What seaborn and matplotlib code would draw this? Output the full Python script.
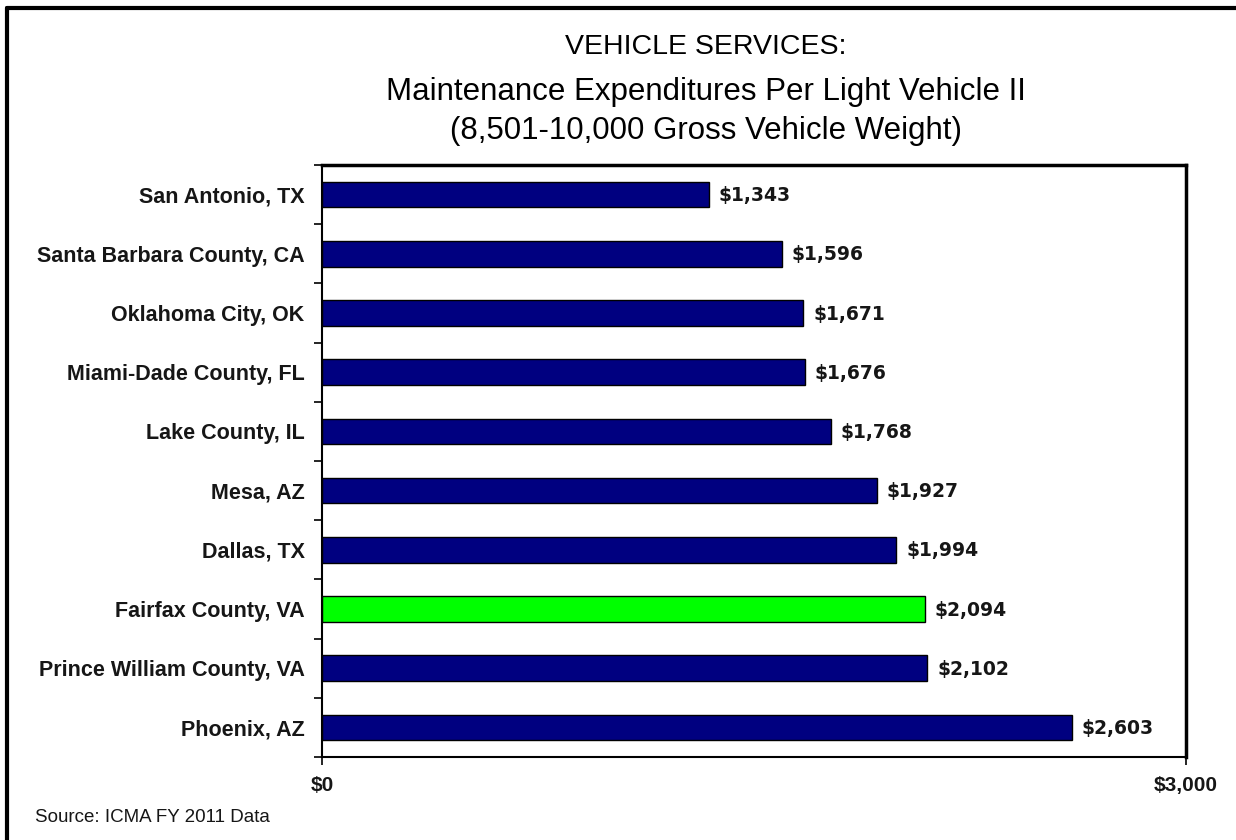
import matplotlib
matplotlib.use("Agg")
import matplotlib.pyplot as plt
from matplotlib.lines import Line2D
import seaborn as sns
import pandas as pd

# Data
jurisdictions = [
    "San Antonio, TX",
    "Santa Barbara County, CA",
    "Oklahoma City, OK",
    "Miami-Dade County, FL",
    "Lake County, IL",
    "Mesa, AZ",
    "Dallas, TX",
    "Fairfax County, VA",
    "Prince William County, VA",
    "Phoenix, AZ",
]
cost_per_vehicle = [1343, 1596, 1671, 1676, 1768, 1927, 1994, 2094, 2102, 2603]
highlight = "Fairfax County, VA"
x_ticks = [0, 3000]
x_tick_labels = ["$0", "$3,000"]

title_lines = [
    "VEHICLE SERVICES:",
    "Maintenance Expenditures Per Light Vehicle II",
    "(8,501-10,000 Gross Vehicle Weight)",
]
source_note = "Source: ICMA FY 2011 Data"

NAVY = "#000080"
GREEN = "#00FF00"
INK = "#161616"

sns.set_theme(style="white")
plt.rcParams["font.family"] = ["Liberation Sans", "DejaVu Sans"]

df = pd.DataFrame({"jurisdiction": jurisdictions, "cost": cost_per_vehicle})
df["group"] = ["hl" if j == highlight else "base" for j in jurisdictions]

fig = plt.figure(figsize=(12.36, 8.4), dpi=100)
ax = fig.add_axes([322 / 1236, 1 - 757 / 840, (1186 - 322) / 1236, (757 - 165) / 840])

sns.barplot(
    data=df, x="cost", y="jurisdiction", hue="group",
    palette={"base": NAVY, "hl": GREEN}, order=jurisdictions,
    orient="h", width=0.43, dodge=False, legend=False,
    edgecolor="black", linewidth=1.0, saturation=1, ax=ax,
)

ax.set_xlim(0, 3000)
ax.set_ylim(len(jurisdictions) - 0.5, -0.5)
ax.set_xlabel("")
ax.set_ylabel("")

# value labels
for i, v in enumerate(cost_per_vehicle):
    ax.text(v + 34, i + 0.02, f"${v:,}", va="center", ha="left",
            fontsize=13.5, fontweight="bold", family="DejaVu Sans", color=INK)

# x axis ticks
ax.set_xticks(x_ticks)
ax.set_xticklabels(x_tick_labels, fontsize=15, fontweight="bold", color=INK)
ax.tick_params(axis="x", direction="out", length=6, width=1.2, pad=8,
               bottom=True, color="black")

# y axis: tick marks on band boundaries, labels at band centres
n = len(jurisdictions)
ax.set_yticks([k - 0.5 for k in range(n + 1)])
ax.set_yticklabels([])
ax.set_yticks(list(range(n)), minor=True)
ax.set_yticklabels(jurisdictions, minor=True, fontsize=15.5, fontweight="bold",
                   color=INK)
ax.tick_params(axis="y", which="major", direction="out", length=6, width=1.2,
               left=True, color="black")
ax.tick_params(axis="y", which="minor", length=0, pad=12.5)

for s in ax.spines.values():
    s.set_visible(True)
    s.set_color("black")
ax.spines["left"].set_linewidth(1.5)
ax.spines["bottom"].set_linewidth(1.5)
ax.spines["top"].set_linewidth(2.5)
ax.spines["right"].set_linewidth(2.5)

# title block
title_x = 706 / 1236
fig.text(title_x, 1 - 47 / 840, title_lines[0], ha="center", va="center",
         fontsize=20.5, color="black")
fig.text(title_x, 1 - 92 / 840, title_lines[1], ha="center", va="center",
         fontsize=22.5, color="black")
fig.text(title_x, 1 - 131 / 840, title_lines[2], ha="center", va="center",
         fontsize=22.5, color="black")

fig.text(35 / 1236, 1 - 818 / 840, source_note, ha="left", va="center",
         fontsize=13.5, color=INK)

# outer frame (left and top edges)
fx = 7 / 1236
fy = 1 - 8 / 840
fig.add_artist(Line2D([fx, fx], [0, fy], transform=fig.transFigure,
                      color="black", linewidth=3))
fig.add_artist(Line2D([fx, 1], [fy, fy], transform=fig.transFigure,
                      color="black", linewidth=3))

fig.savefig("out.png", dpi=100, facecolor="white")
